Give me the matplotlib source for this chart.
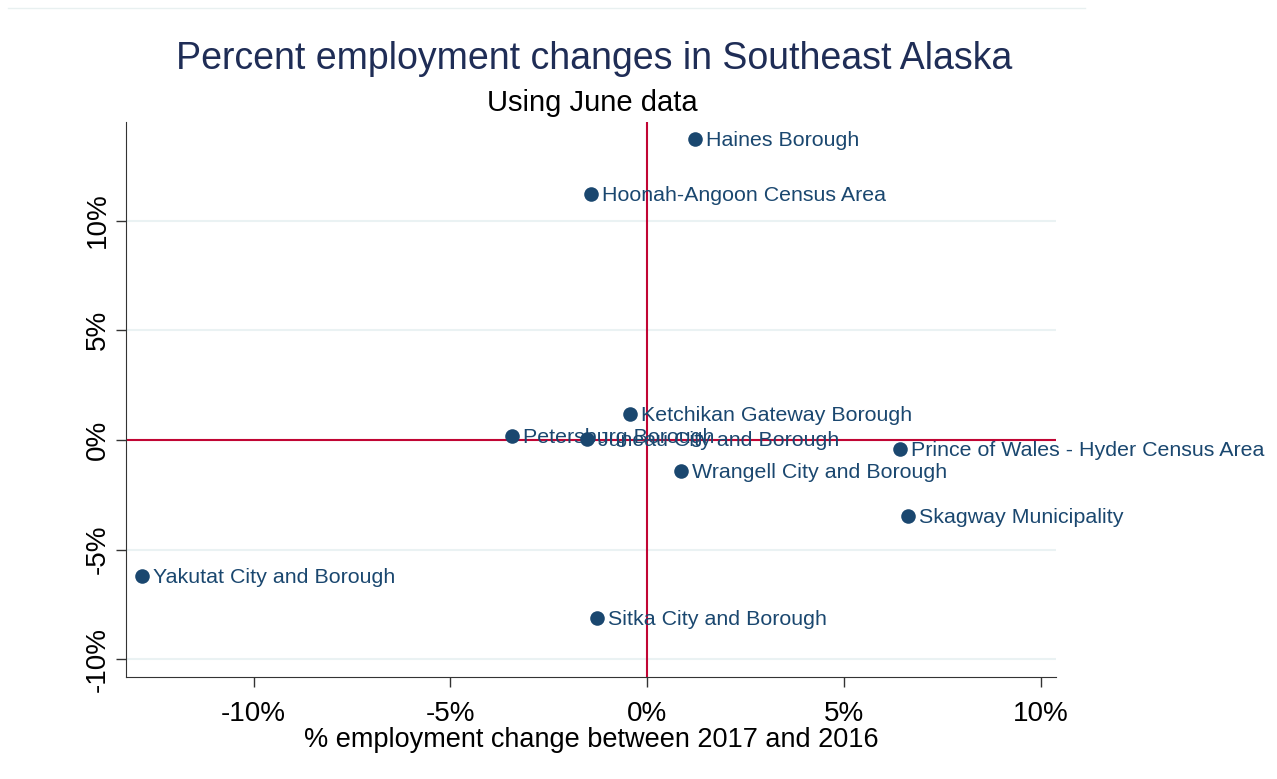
import matplotlib
matplotlib.use("Agg")
import matplotlib.pyplot as plt
from matplotlib.lines import Line2D
from matplotlib.ticker import FuncFormatter

plt.rcParams['font.family'] = ['Liberation Sans', 'DejaVu Sans']

# data (percent change 2016 -> 2017)
areas = ["Haines Borough", "Hoonah-Angoon Census Area", "Ketchikan Gateway Borough",
         "Petersburg Borough", "Juneau City and Borough",
         "Prince of Wales - Hyder Census Area", "Wrangell City and Borough",
         "Skagway Municipality", "Yakutat City and Borough", "Sitka City and Borough"]
x_change = [1.22, -1.42, -0.43, -3.43, -1.52, 6.43, 0.86, 6.63, -12.83, -1.27]
y_change = [13.71, 11.21, 1.18, 0.18, 0.05, -0.41, -1.41, -3.46, -6.20, -8.11]
ticks = [-10, -5, 0, 5, 10]

navy = "#1a476f"
red = "#c10534"

fig = plt.figure(figsize=(12.77, 7.79), dpi=100)
ax = fig.add_axes([0.0987, 0.131, 0.7283, 0.7124])

for t in ticks:
    ax.axhline(t, color="#eaf2f3", lw=1.5, zorder=0)
ax.axvline(0, color=red, lw=1.5, zorder=1)
ax.axhline(0, color=red, lw=1.5, zorder=1)

ax.scatter(x_change, y_change, s=110, color=navy, zorder=3, linewidths=0)
for name, xv, yv in zip(areas, x_change, y_change):
    ax.annotate(name, (xv, yv), xytext=(8, -1), textcoords="offset points",
                va="center", ha="left", fontsize=15.4, color=navy, zorder=4,
                annotation_clip=False)

ax.set_xlim(-13.24, 10.39)
ax.set_ylim(-10.8, 14.49)
ax.set_xticks(ticks)
ax.set_yticks(ticks)
pct = FuncFormatter(lambda v, p: "%d%%" % v)
ax.xaxis.set_major_formatter(pct)
ax.yaxis.set_major_formatter(pct)
ax.tick_params(axis="both", length=7, width=1, color="#333333", labelsize=20)
ax.tick_params(axis="x", pad=10)
ax.tick_params(axis="y", pad=4)
for lab in ax.get_yticklabels():
    lab.set_rotation(90)
    lab.set_va("center")

ax.spines["top"].set_visible(False)
ax.spines["right"].set_visible(False)
ax.spines["left"].set_color("#333333")
ax.spines["bottom"].set_color("#333333")

ax.set_xlabel("% employment change between 2017 and 2016", fontsize=19.5, labelpad=0)

fig.text(0.465, 0.924, "Percent employment changes in Southeast Alaska",
         ha="center", va="center", fontsize=27, color="#1f2d56")
fig.text(0.4635, 0.868, "Using June data", ha="center", va="center", fontsize=21,
         color="black")

# faint rule across the very top
fig.add_artist(Line2D([8 / 1277, 1085 / 1277], [1 - 8 / 779, 1 - 8 / 779],
                      color="#e8f0f0", lw=1))

fig.savefig("out.png", dpi=100)
